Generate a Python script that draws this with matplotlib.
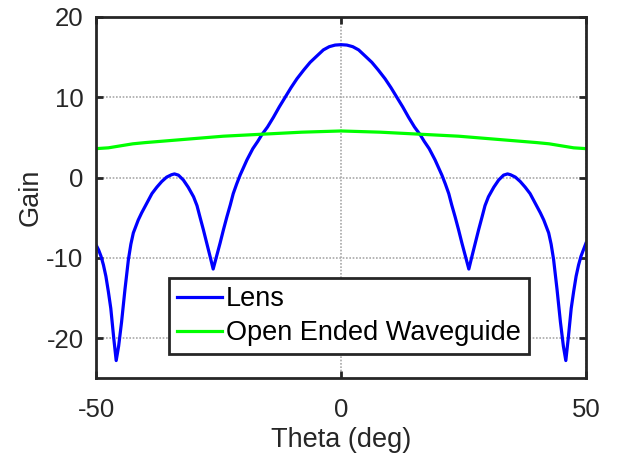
import numpy as np
import matplotlib.pyplot as plt

plt.rcParams['font.family'] = ['Liberation Sans', 'DejaVu Sans']
plt.rcParams['axes.unicode_minus'] = False

# Lens pattern
lens_theta = [-50, -49.5, -49, -48.5, -48, -47.5, -47, -46.4, -45.9, -45.4, -44.8,
              -44.1, -43.4, -42.9, -42.4, -41.4, -40.7, -40, -39.3, -38.6, -37.6,
              -36.6, -35.6, -34.6, -34, -33.2, -32.2, -31.2, -30.1, -29.4, -28.8,
              -28.1, -27.4, -26.7, -26.1, -25.4, -24.7, -24, -23.3, -22.6, -22,
              -21.3, -20.6, -19.2, -18, -17, -16.2, -15, -13.8, -12.6, -11.4,
              -10.2, -9, -7.6, -6.3, -5, -3.6, -2.4, -1.2, 0,
              1.2, 2.4, 3.6, 5, 6.3, 7.6, 9, 10.2, 11.4, 12.6, 13.8, 15, 16.2,
              17, 18, 19.2, 20.6, 21.3, 22, 22.6, 23.3, 24, 24.7, 25.4, 26.1,
              26.7, 27.4, 28.1, 28.8, 29.4, 30.1, 31.2, 32.2, 33.2, 34, 34.6,
              35.6, 36.6, 37.6, 38.6, 39.3, 40, 40.7, 41.4, 42.4, 42.9, 43.4,
              44.1, 44.8, 45.4, 45.9, 46.4, 47, 47.5, 48, 48.5, 49, 49.5, 50]
lens_gain = [-8.4, -9.0, -9.8, -10.9, -12.3, -14.2, -16.3, -20.0, -22.8, -21.0, -18.0,
             -13.9, -10.2, -8.3, -6.9, -5.3, -4.4, -3.6, -2.8, -2.0, -1.2,
             -0.5, 0.05, 0.35, 0.45, 0.3, -0.3, -1.2, -2.4, -3.5, -4.9,
             -6.5, -8.2, -9.9, -11.4, -9.8, -8.2, -6.5, -4.9, -3.4, -2.0,
             -0.8, 0.3, 2.2, 3.6, 4.5, 5.3, 6.3, 7.5, 8.8, 10.0,
             11.2, 12.3, 13.4, 14.35, 15.1, 15.9, 16.3, 16.5, 16.55,
             16.5, 16.3, 15.9, 15.1, 14.35, 13.4, 12.3, 11.2, 10.0, 8.8, 7.5, 6.3, 5.3,
             4.5, 3.6, 2.2, 0.3, -0.8, -2.0, -3.4, -4.9, -6.5, -8.2, -9.8, -11.4,
             -9.9, -8.2, -6.5, -4.9, -3.5, -2.4, -1.2, -0.3, 0.3, 0.45, 0.35,
             0.05, -0.5, -1.2, -2.0, -2.8, -3.6, -4.4, -5.3, -6.9, -8.3, -10.2,
             -13.9, -18.0, -21.0, -22.8, -20.0, -16.3, -14.2, -12.3, -10.9, -9.8, -9.0, -8.2]

# Open ended waveguide pattern
oew_theta = [-50, -47.5, -45, -42.5, -40, -35, -30, -24, -16, -8, 0,
             8, 16, 24, 30, 35, 40, 42.5, 45, 47.5, 50]
oew_gain = [3.6, 3.7, 3.95, 4.2, 4.35, 4.6, 4.85, 5.15, 5.4, 5.65, 5.8,
            5.65, 5.4, 5.15, 4.85, 4.6, 4.35, 4.2, 3.95, 3.7, 3.6]

x_ticks = [-50, 0, 50]
y_ticks = [-20, -10, 0, 10, 20]

fig = plt.figure(figsize=(6.2, 4.59), dpi=100)
ax = fig.add_axes([0.155, 0.176, 0.79, 0.787])

ax.plot(lens_theta, lens_gain, color='#0000ff', lw=2.3, label='Lens')
ax.plot(oew_theta, oew_gain, color='#00ff00', lw=2.3, label='Open Ended Waveguide')

ax.set_xlim(-50, 50)
ax.set_ylim(-25, 20)
ax.set_xticks(x_ticks)
ax.set_yticks(y_ticks)
ax.grid(True, color='#a8a8a8', linestyle=(0, (1, 1)), linewidth=1.2)
ax.set_axisbelow(True)

dark = '#262626'
for s in ax.spines.values():
    s.set_color(dark)
    s.set_linewidth(2.0)
ax.tick_params(direction='in', length=5, width=2, colors=dark, labelsize=18.5,
               top=True, right=True)
ax.tick_params(axis='x', pad=14)
ax.tick_params(axis='y', pad=9)
ax.set_xlabel('Theta (deg)', fontsize=19.5, color=dark, labelpad=4)
ax.set_ylabel('Gain', fontsize=19.5, color=dark, labelpad=2)

leg = ax.legend(loc='lower left', bbox_to_anchor=(0.149, 0.066), fontsize=19.5,
                frameon=True, fancybox=False, edgecolor=dark, framealpha=1,
                handlelength=1.65, handletextpad=0.15, borderpad=0.3,
                labelspacing=0.3, borderaxespad=0)
leg.get_frame().set_linewidth(2.0)
for t in leg.get_texts():
    t.set_color('black')

fig.savefig('out.png', dpi=100)
